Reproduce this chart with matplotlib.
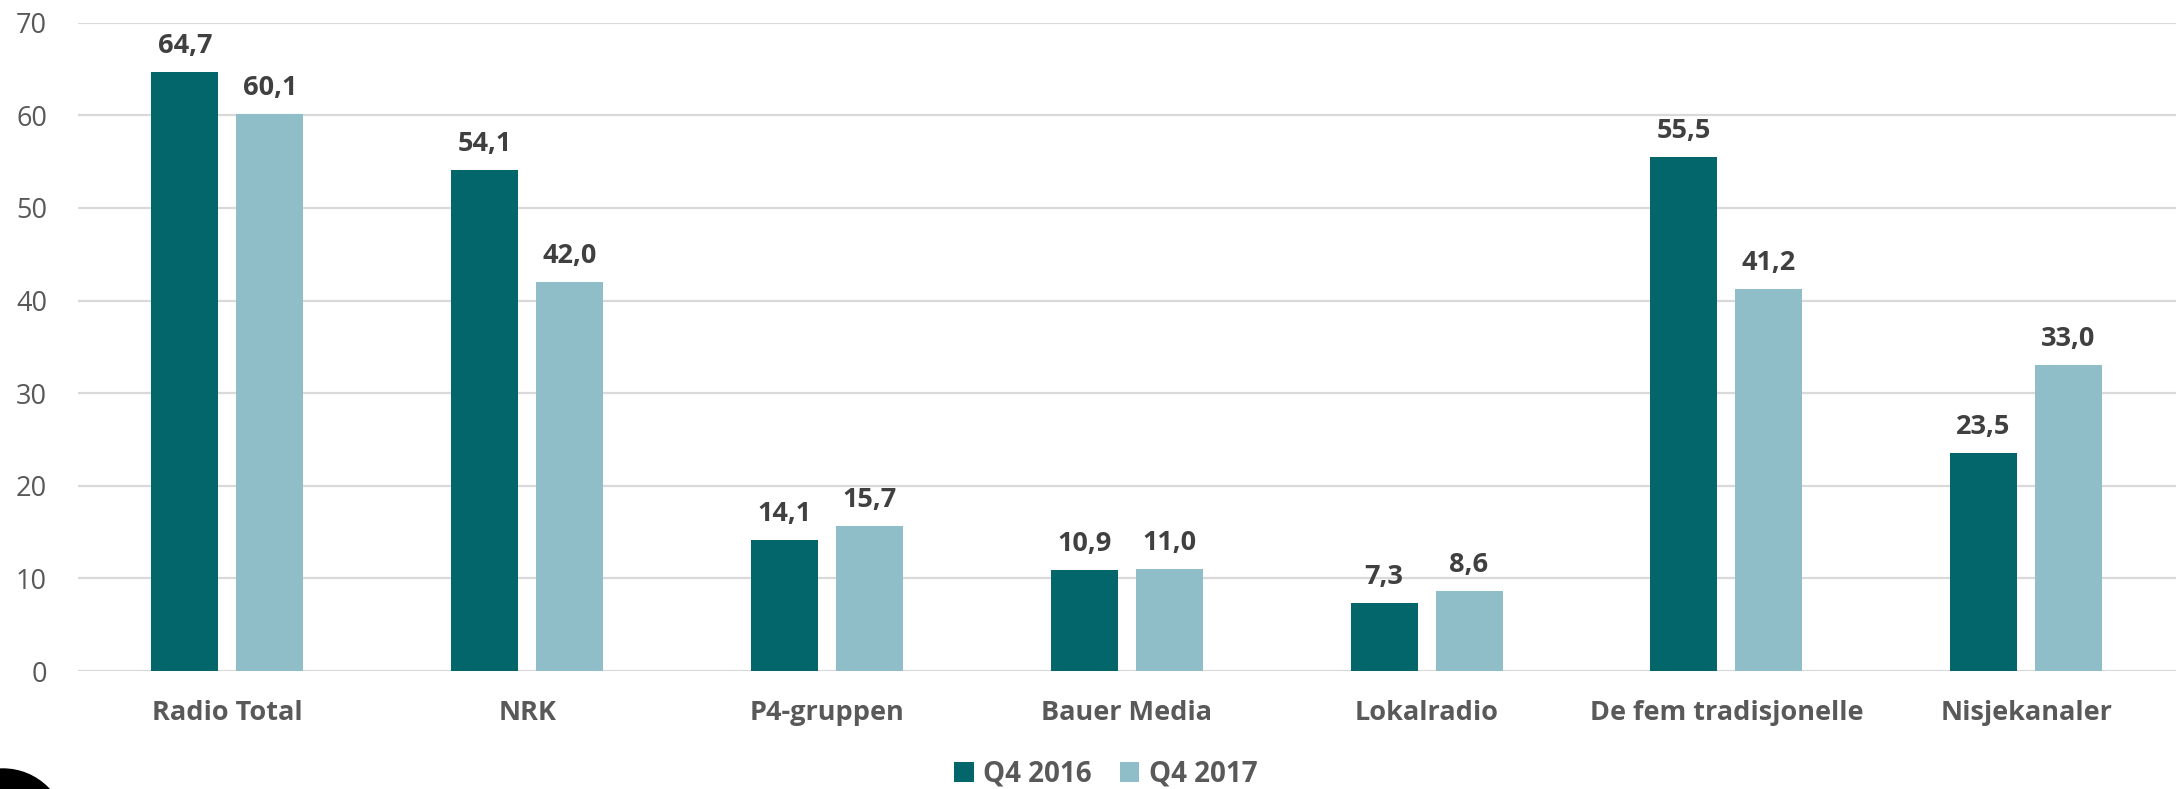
import matplotlib
matplotlib.use("Agg")
import matplotlib.pyplot as plt
import numpy as np
from matplotlib.patches import Ellipse

categories = ["Radio Total", "NRK", "P4-gruppen", "Bauer Media", "Lokalradio",
              "De fem tradisjonelle", "Nisjekanaler"]
q4_2016 = [64.7, 54.1, 14.1, 10.9, 7.3, 55.5, 23.5]
q4_2017 = [60.1, 42.0, 15.7, 11.0, 8.6, 41.2, 33.0]
series_names = ["Q4 2016", "Q4 2017"]
yticks = [0, 10, 20, 30, 40, 50, 60, 70]

plt.rcParams['font.family'] = ['Open Sans', 'DejaVu Sans']

W, H = 2178, 789
fig = plt.figure(figsize=(W / 100, H / 100), dpi=100)
ax = fig.add_axes([77.5 / W, 118 / H, (2176 - 77.5) / W, (671 - 22.7) / H])

dark = "#03666A"
light = "#8FBDC8"
x = np.arange(len(categories))
bw = 0.2235
off = 0.1418
b1 = ax.bar(x - off, q4_2016, bw, color=dark, label=series_names[0], zorder=3)
b2 = ax.bar(x + off, q4_2017, bw, color=light, label=series_names[1], zorder=3)

for bars, vals in ((b1, q4_2016), (b2, q4_2017)):
    for r, v in zip(bars, vals):
        ax.annotate(f"{v:.1f}".replace(".", ","),
                    (r.get_x() + r.get_width() / 2, r.get_height()),
                    xytext=(0, 13), textcoords="offset pixels",
                    ha="center", va="bottom", fontsize=19.5, fontweight="bold",
                    color="#404040")

ax.set_xlim(-0.5, len(categories) - 0.5)
ax.set_ylim(0, 70)
ax.set_yticks(yticks)
ax.set_yticklabels([str(t) for t in yticks], fontsize=19.5, color="#595959")
ax.set_xticks(x)
ax.set_xticklabels(categories, fontsize=19.5, fontweight="bold", color="#595959")
ax.tick_params(axis="y", length=0, pad=22)
ax.tick_params(axis="x", length=0, pad=21)
ax.grid(axis="y", color="#D9D9D9", linewidth=1.6, zorder=0)
for s in ax.spines.values():
    s.set_visible(False)

leg = fig.legend(loc="center", bbox_to_anchor=(1106 / W, 1 - 774 / H),
                 ncol=2, frameon=False, fontsize=20, handlelength=0.7,
                 handleheight=0.7, handletextpad=0.35, columnspacing=1.0)
for t in leg.get_texts():
    t.set_color("#595959")
    t.set_fontweight("bold")

# decorative black circle partially visible at bottom-left corner
fig.patches.append(Ellipse((3 / W, -43 / H), 126 / W, 126 / H, transform=fig.transFigure,
                           color="black", zorder=10))

fig.savefig("out.png", dpi=100)
